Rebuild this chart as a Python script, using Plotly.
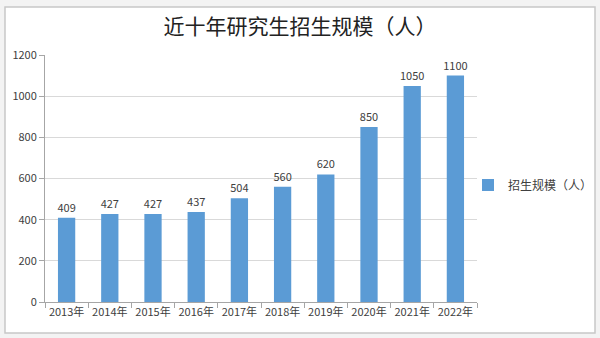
import plotly.graph_objects as go

years = ["2013年", "2014年", "2015年", "2016年", "2017年", "2018年", "2019年", "2020年", "2021年", "2022年"]
values = [409, 427, 427, 437, 504, 560, 620, 850, 1050, 1100]
series_name = "招生规模（人）"
title = "近十年研究生招生规模（人）"
y_ticks = [0, 200, 400, 600, 800, 1000, 1200]

L, R, T, B = 45, 123, 55, 36
W, H = 600, 338
pw, ph = W - L - R, H - T - B

def px2x(px):
    return (px - L) / pw

def py2y(py):
    return (H - B - py) / ph

fig = go.Figure()
fig.add_trace(go.Bar(
    x=years, y=values, name=series_name,
    marker=dict(color="#5B9BD5", line=dict(width=0)),
    text=[str(v) for v in values], textposition="outside",
    textfont=dict(size=11, color="#404040", family="Noto Sans CJK SC"),
    cliponaxis=False, constraintext="none",
))

fig.add_shape(type="rect", xref="paper", yref="paper",
              x0=px2x(5), x1=px2x(595), y0=py2y(333), y1=py2y(7),
              fillcolor="white", line=dict(color="#c8c8c8", width=1.5), layer="below")

fig.update_layout(
    width=W, height=H,
    margin=dict(l=L, r=R, t=T, b=B, autoexpand=False),
    paper_bgcolor="#f3f3f3", plot_bgcolor="rgba(0,0,0,0)",
    bargap=0.6,
    showlegend=True,
    legend=dict(xref="container", yref="container", x=468 / W, y=1 - 185 / H,
                xanchor="left", yanchor="middle",
                font=dict(size=12, color="#404040", family="Noto Sans CJK SC"),
                bgcolor="rgba(0,0,0,0)", itemwidth=30),
    title=dict(text=title, xref="container", x=300 / W, xanchor="center", y=1 - 27 / H, yanchor="middle",
               font=dict(size=21, color="#222222", family="Noto Sans CJK SC")),
    font=dict(family="Noto Sans CJK SC", color="#404040"),
    uniformtext=dict(mode=False),
)
fig.update_yaxes(range=[0, 1200], tickvals=y_ticks, showgrid=True, gridcolor="#d9d9d9", gridwidth=1,
                 showline=True, linecolor="#a6a6a6", ticks="outside", ticklen=5, tickcolor="#a6a6a6",
                 tickfont=dict(size=11, color="#404040"), zeroline=False, automargin=False)
fig.update_xaxes(showline=True, linecolor="#a6a6a6", ticks="outside", ticklen=5, tickcolor="#a6a6a6",
                 tickson="boundaries", tickangle=0, tickfont=dict(size=11, color="#404040"),
                 showgrid=False, automargin=False)

fig.write_html("out.html")
